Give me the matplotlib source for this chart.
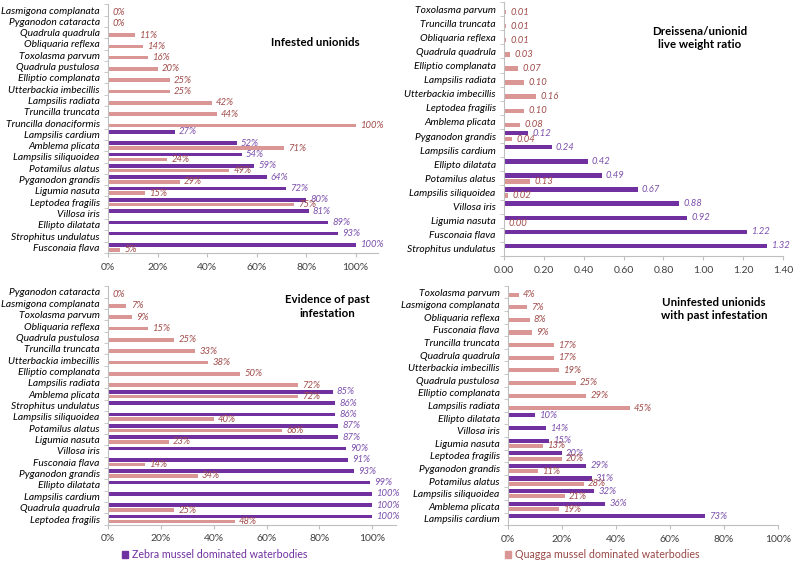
import numpy as np
import matplotlib
matplotlib.use("Agg")
import matplotlib.pyplot as plt
from matplotlib.patches import Patch
from matplotlib.ticker import FixedLocator, PercentFormatter, FormatStrFormatter

plt.rcParams['font.family'] = ['Lato', 'DejaVu Sans']

nan = np.nan

# panel 1: infested unionids
inf_species = ["Lasmigona complanata", "Pyganodon cataracta", "Quadrula quadrula",
               "Obliquaria reflexa", "Toxolasma parvum", "Quadrula pustulosa",
               "Elliptio complanata", "Utterbackia imbecillis", "Lampsilis radiata",
               "Truncilla truncata", "Truncilla donaciformis", "Lampsilis cardium",
               "Amblema plicata", "Lampsilis siliquoidea", "Potamilus alatus",
               "Pyganodon grandis", "Ligumia nasuta", "Leptodea fragilis",
               "Villosa iris", "Ellipto dilatata", "Strophitus undulatus", "Fusconaia flava"]
inf_zebra = [nan, nan, nan, nan, nan, nan, nan, nan, nan, nan, nan, 0.27,
             0.52, 0.54, 0.59, 0.64, 0.72, 0.80, 0.81, 0.89, 0.93, 1.00]
inf_quagga = [0.00, 0.00, 0.11, 0.14, 0.16, 0.20, 0.25, 0.25, 0.42, 0.44, 1.00, nan,
              0.71, 0.24, 0.49, 0.29, 0.15, 0.75, nan, nan, nan, 0.05]

# panel 2: live weight ratio
ratio_species = ["Toxolasma parvum", "Truncilla truncata", "Obliquaria reflexa",
                 "Quadrula quadrula", "Elliptio complanata", "Lampsilis radiata",
                 "Utterbackia imbecillis", "Leptodea fragilis", "Amblema plicata",
                 "Pyganodon grandis", "Lampsilis cardium", "Ellipto dilatata",
                 "Potamilus alatus", "Lampsilis siliquoidea", "Villosa iris",
                 "Ligumia nasuta", "Fusconaia flava", "Strophitus undulatus"]
ratio_zebra = [nan, nan, nan, nan, nan, nan, nan, nan, nan, 0.12, 0.24, 0.42,
               0.49, 0.67, 0.88, 0.92, 1.22, 1.32]
ratio_quagga = [0.01, 0.01, 0.01, 0.03, 0.07, 0.10, 0.16, 0.10, 0.08, 0.04, nan, nan,
                0.13, 0.02, nan, 0.00, nan, nan]

# panel 3: evidence of past infestation
past_species = ["Pyganodon cataracta", "Lasmigona complanata", "Toxolasma parvum",
                "Obliquaria reflexa", "Quadrula pustulosa", "Truncilla truncata",
                "Utterbackia imbecillis", "Elliptio complanata", "Lampsilis radiata",
                "Amblema plicata", "Strophitus undulatus", "Lampsilis siliquoidea",
                "Potamilus alatus", "Ligumia nasuta", "Villosa iris", "Fusconaia flava",
                "Pyganodon grandis", "Ellipto dilatata", "Lampsilis cardium",
                "Quadrula quadrula", "Leptodea fragilis"]
past_zebra = [nan, nan, nan, nan, nan, nan, nan, nan, nan, 0.85, 0.86, 0.86,
              0.87, 0.87, 0.90, 0.91, 0.93, 0.99, 1.00, 1.00, 1.00]
past_quagga = [0.00, 0.07, 0.09, 0.15, 0.25, 0.33, 0.38, 0.50, 0.72, 0.72, nan, 0.40,
               0.66, 0.23, nan, 0.14, 0.34, nan, nan, 0.25, 0.48]

# panel 4: uninfested with past infestation
uninf_species = ["Toxolasma parvum", "Lasmigona complanata", "Obliquaria reflexa",
                 "Fusconaia flava", "Truncilla truncata", "Quadrula quadrula",
                 "Utterbackia imbecillis", "Quadrula pustulosa", "Elliptio complanata",
                 "Lampsilis radiata", "Ellipto dilatata", "Villosa iris", "Ligumia nasuta",
                 "Leptodea fragilis", "Pyganodon grandis", "Potamilus alatus",
                 "Lampsilis siliquoidea", "Amblema plicata", "Lampsilis cardium"]
uninf_zebra = [nan, nan, nan, nan, nan, nan, nan, nan, nan, nan, 0.10, 0.14, 0.15,
               0.20, 0.29, 0.31, 0.32, 0.36, 0.73]
uninf_quagga = [0.04, 0.07, 0.08, 0.09, 0.17, 0.17, 0.19, 0.25, 0.29, 0.45, nan, nan,
                0.13, 0.20, 0.11, 0.28, 0.21, 0.19, nan]

zebra_col = '#7030a0'
quagga_col = '#d99694'
zebra_txt = '#7b4fab'
quagga_txt = '#a04c4a'
axis_col = '#bfbfbf'
W, H = 794, 565


def panel(rect_px, species, zebra, quagga, xmax, ticks, pct, title, title_xy):
    l, t, r, b = rect_px
    ax = fig.add_axes([l / W, 1 - b / H, (r - l) / W, (b - t) / H])
    n = len(species)
    y = np.arange(n)
    zb = np.array(zebra)
    qg = np.array(quagga)
    ax.barh(y - 0.21, np.nan_to_num(zb), height=0.32, color=zebra_col)
    ax.barh(y + 0.21, np.nan_to_num(qg), height=0.32, color=quagga_col)
    for vals, off, col in ((zb, -0.21, zebra_txt), (qg, 0.21, quagga_txt)):
        for i, v in enumerate(vals):
            if np.isnan(v):
                continue
            s = f"{v:.0%}" if pct else f"{v:.2f}"
            ax.annotate(s, (v, i + off), xytext=(3, 0), textcoords='offset points',
                        va='center', ha='left', fontsize=6.8, style='italic', color=col)
    ax.set_ylim(n - 0.5, -0.5)
    ax.set_xlim(0, xmax)
    ax.set_yticks(y)
    ax.set_yticklabels(species, style='italic', fontsize=7.4)
    ax.yaxis.set_minor_locator(FixedLocator(np.arange(n + 1) - 0.5))
    ax.tick_params(axis='y', which='major', length=0, pad=6)
    ax.tick_params(axis='y', which='minor', length=3, color=axis_col)
    ax.set_xticks(ticks)
    if pct:
        ax.xaxis.set_major_formatter(PercentFormatter(1.0, decimals=0))
    else:
        ax.xaxis.set_major_formatter(FormatStrFormatter('%.2f'))
    ax.tick_params(axis='x', length=3, color=axis_col, labelsize=7.5, labelcolor='#404040', pad=4)
    for sp in ('top', 'right'):
        ax.spines[sp].set_visible(False)
    for sp in ('left', 'bottom'):
        ax.spines[sp].set_color(axis_col)
        ax.spines[sp].set_linewidth(0.8)
    fig.text(title_xy[0] / W, 1 - title_xy[1] / H, title, ha='center', va='center',
             fontsize=8.3, fontweight='bold', linespacing=1.3)
    return ax


fig = plt.figure(figsize=(W / 100, H / 100), dpi=100)

pct_ticks = [0, 0.2, 0.4, 0.6, 0.8, 1.0]
panel((108, 4.4, 378, 253), inf_species, inf_zebra, inf_quagga, 1.09, pct_ticks, True,
      "Infested unionids", (315, 42))
panel((504, 2, 783, 256), ratio_species, ratio_zebra, ratio_quagga, 1.4,
      [0, 0.2, 0.4, 0.6, 0.8, 1.0, 1.2, 1.4], False,
      "Dreissena/unionid\nlive weight ratio", (700, 38))
panel((108, 286.3, 396, 524.7), past_species, past_zebra, past_quagga, 1.09, pct_ticks, True,
      "Evidence of past\ninfestation", (327, 306.5))
panel((508, 285.7, 778, 525.3), uninf_species, uninf_zebra, uninf_quagga, 1.0, pct_ticks, True,
      "Uninfested unionids\nwith past infestation", (714, 309))

fig.legend(handles=[Patch(color=zebra_col)], labels=["Zebra mussel dominated waterbodies"],
           loc='center left', bbox_to_anchor=(112 / W, 1 - 555 / H), frameon=False,
           handlelength=0.6, handleheight=0.6, handletextpad=0.4, fontsize=7.7,
           labelcolor=zebra_col)
fig.legend(handles=[Patch(color=quagga_col)], labels=["Quagga mussel dominated waterbodies"],
           loc='center left', bbox_to_anchor=(495 / W, 1 - 555 / H), frameon=False,
           handlelength=0.6, handleheight=0.6, handletextpad=0.4, fontsize=7.7,
           labelcolor='#984846')

fig.savefig('out.png', dpi=100)
